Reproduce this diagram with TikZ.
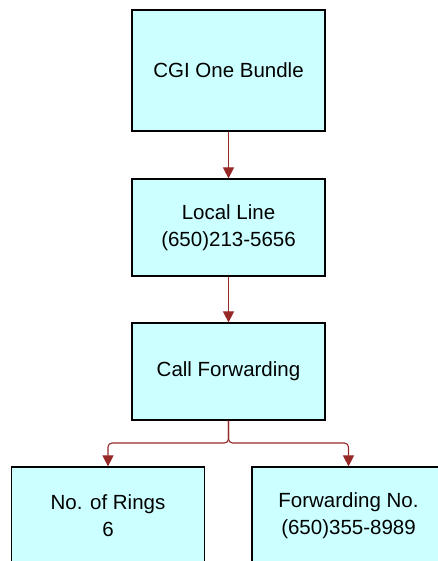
\documentclass[tikz,border=0pt]{standalone}
\usepackage{fontspec}
\setmainfont{Liberation Sans}
\usetikzlibrary{arrows.meta}

\definecolor{boxfill}{RGB}{204,255,255}
\definecolor{linkred}{RGB}{150,40,40}

\tikzset{
  item/.style={draw=black, fill=boxfill, line width=1.2pt, minimum width=193pt,
    minimum height=97pt, align=center, inner sep=0pt,
    font=\fontsize{20.5}{27}\selectfont},
  link/.style={linkred, line width=1.1pt, -{Triangle[width=11pt,length=11pt]}}
}

\begin{document}
\begin{tikzpicture}[x=1pt, y=-1pt]

  \clip (0,0) rectangle (438,561);

  % the chain of items
  \node[item, minimum height=121pt] (bundle) at (228.5,70.5) {CGI One Bundle};
  \node[item] (line) at (228.5,227.5) {Local Line\\(650)213-5656};
  \node[item] (fwd) at (228.5,371.5) {Call Forwarding};
  \node[item] (rings) at (108,515.5) {No. of Rings\\6};
  \node[item] (fwdno) at (348.5,515.5) {Forwarding No.\\(650)355-8989};

  % connectors
  \draw[link] (bundle) -- (line);
  \draw[link] (line) -- (fwd);
  \coordinate (split) at (228.5,443);
  \draw[link, rounded corners=4pt] (fwd.south) -- (split) -| (rings.north);
  \draw[link, rounded corners=4pt] (fwd.south) -- (split) -| (fwdno.north);

\end{tikzpicture}
\end{document}
